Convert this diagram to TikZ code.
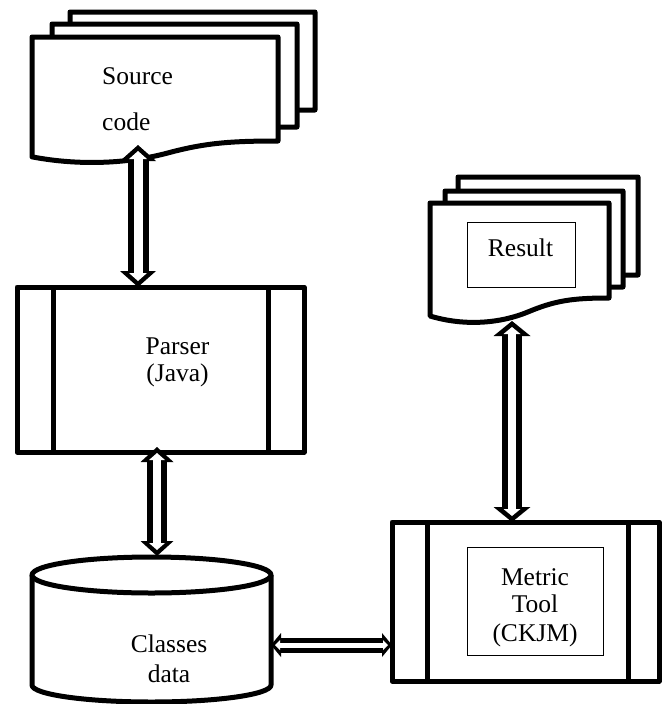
\documentclass[tikz,border=0pt]{standalone}
\usepackage{fontspec}
\setmainfont{Liberation Serif}
\usetikzlibrary{arrows.meta}
\tikzset{
  thickln/.style={line width=5pt, line join=round},
  pagest/.style={thickln, draw=black, fill=white},
  hid/.style={draw=none, inner sep=0pt, outer sep=0pt},
  procbox/.style={draw=black, fill=white, line width=5pt, line join=round, inner sep=0pt, outer sep=0pt},
  thinbox/.style={draw=black, line width=1pt, inner sep=0pt, outer sep=0pt},
  txt/.style={font=\fontsize{25.5}{28}\selectfont, inner sep=0pt, anchor=base},
  dout/.style n args={3}{draw=black, line width=#1,
    arrows={Triangle[length=#3,width=#2,line width=0pt]-Triangle[length=#3,width=#2,line width=0pt]}},
  din/.style n args={4}{draw=white, line width=#1, shorten <=#4, shorten >=#4,
    arrows={Triangle[length=#3,width=#2,line width=0pt]-Triangle[length=#3,width=#2,line width=0pt]}}
}
% L, T, R, bottom-right y, wave amplitude
\newcommand\wavepage[5]{%
  \filldraw[pagest] (#1,{#4+0.72*#5}) -- (#1,#2) -- (#3,#2) -- (#3,#4)
    .. controls ({#1+0.8*(#3-#1)},#4) and ({#1+0.7*(#3-#1)},{#4+0.1*#5}) .. ({#1+0.55*(#3-#1)},{#4+0.55*#5})
    .. controls ({#1+0.4*(#3-#1)},{#4+1.0*#5}) and ({#1+0.2*(#3-#1)},{#4+1.15*#5}) .. (#1,{#4+0.72*#5}) -- cycle;}
\begin{document}
\begin{tikzpicture}[x=1pt,y=-1pt]
\useasboundingbox (0,0) rectangle (667,704);

% ---------- Source code (multi-document) ----------
\wavepage{70}{12}{315}{110}{22}
\wavepage{52}{24}{297}{127}{22}
\wavepage{32}{37}{278}{141}{22}
\node[hid, minimum width=246pt, minimum height=110pt] (src) at (155,92) {};
\node[txt, anchor=base west] (srcT1) at (102,84) {Source};
\node[txt, anchor=base west] (srcT2) at (102,130) {code};
\coordinate (srcport) at (138,145);

% ---------- Parser ----------
\node[procbox, minimum width=287pt, minimum height=165pt] (parser) at (160.5,369.5) {};
\draw[thickln] ([xshift=36pt]parser.north west) -- ([xshift=36pt]parser.south west);
\draw[thickln] ([xshift=-36pt]parser.north east) -- ([xshift=-36pt]parser.south east);
\node[txt] (parserT1) at (177.5,354) {Parser};
\node[txt] (parserT2) at (177.5,381) {(Java)};

% ---------- Classes data (cylinder) ----------
\path[fill=white] (32,575) -- (32,685) arc[start angle=180, end angle=0, x radius=119.5, y radius=17] -- (271,575) -- cycle;
\draw[thickln] (32,575) -- (32,685) arc[start angle=180, end angle=0, x radius=119.5, y radius=17] -- (271,575);
\draw[thickln, fill=white] (151.5,575) ellipse [x radius=119.5, y radius=18];
\node[hid, minimum width=239pt, minimum height=146pt] (db) at (151.5,630) {};
\node[txt] (dbT1) at (169,652) {Classes};
\node[txt] (dbT2) at (169,682) {data};

% ---------- Result (multi-document) ----------
\wavepage{458}{177}{638}{275}{25}
\wavepage{445}{191}{623}{287}{25}
\wavepage{430}{203}{609}{298}{25}
\node[thinbox, minimum width=108pt, minimum height=65pt] (res) at (521,254.5) {};
\node[txt] (resT) at (520.5,256) {Result};
\coordinate (resport) at (512,321);

% ---------- Metric tool ----------
\node[procbox, minimum width=267pt, minimum height=159pt] (metric) at (525.5,601.5) {};
\draw[thickln] ([xshift=35pt]metric.north west) -- ([xshift=35pt]metric.south west);
\draw[thickln] ([xshift=-31pt]metric.north east) -- ([xshift=-31pt]metric.south east);
\node[thinbox, minimum width=136pt, minimum height=108pt] (metricin) at (535,601) {};
\node[txt] (mT1) at (535,585) {Metric};
\node[txt] (mT2) at (535,612) {Tool};
\node[txt] (mT3) at (535,641) {(CKJM)};

% ---------- Connectors (hollow double arrows) ----------
\draw[dout={21pt}{36pt}{16pt}] (srcport) -- (srcport |- parser.north);
\draw[din={9pt}{18pt}{8pt}{6pt}] (srcport) -- (srcport |- parser.north);

\coordinate (pport) at (157,447);
\draw[dout={20pt}{33pt}{15pt}] (pport) -- (pport |- 0,556);
\draw[din={8pt}{16pt}{7pt}{6pt}] (pport) -- (pport |- 0,556);

\draw[dout={15pt}{24pt}{10pt}] (db.east |- 0,645) -- (metric.west |- 0,645);
\draw[din={5pt}{10pt}{5pt}{4pt}] (db.east |- 0,645) -- (metric.west |- 0,645);

\draw[dout={20pt}{37pt}{15pt}] (resport) -- (resport |- metric.north);
\draw[din={8pt}{17pt}{7pt}{6pt}] (resport) -- (resport |- metric.north);
\end{tikzpicture}
\end{document}
